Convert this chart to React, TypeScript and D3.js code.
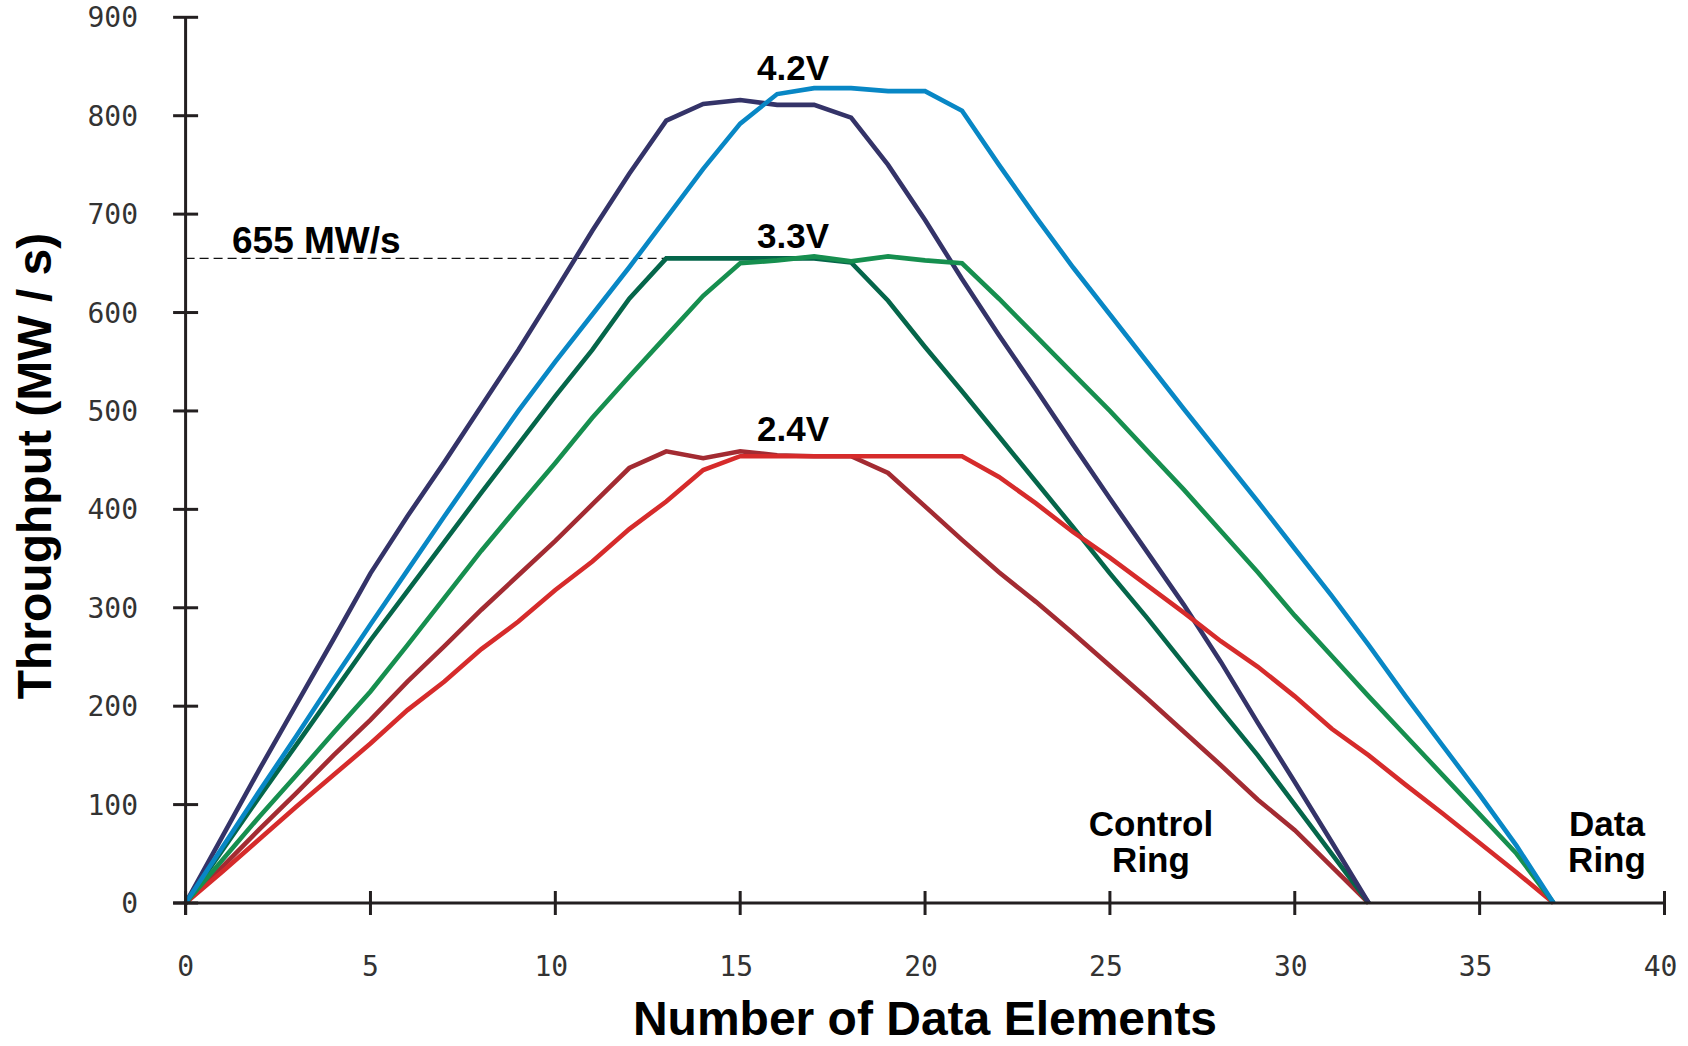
import React from "react";
import * as d3 from "d3";

const xTicks = [0, 5, 10, 15, 20, 25, 30, 35, 40];
const yTicks = [0, 100, 200, 300, 400, 500, 600, 700, 800, 900];

const control42 = [0, 68, 136, 202, 268, 335, 393, 448, 505, 562, 622, 683, 741, 795, 812, 816, 811, 811, 798, 750, 694, 634, 577, 522, 466, 411, 357, 303, 245, 183, 123, 62, 0];
const data42 = [0, 57, 114, 170, 227, 283, 338, 393, 447, 500, 550, 598, 646, 696, 746, 792, 822, 828, 828, 825, 825, 805, 750, 697, 646, 598, 550, 502, 455, 408, 360, 312, 262, 210, 160, 110, 58, 0];
const control33 = [0, 54, 108, 161, 214, 267, 317, 367, 417, 466, 515, 562, 614, 655, 655, 655, 655, 655, 651, 612, 565, 520, 474, 428, 382, 335, 290, 243, 196, 150, 100, 50, 0];
const data33 = [0, 44, 88, 130, 173, 215, 262, 310, 358, 403, 447, 493, 535, 576, 617, 650, 653, 657, 652, 657, 653, 650, 614, 576, 538, 500, 460, 420, 378, 336, 292, 251, 210, 170, 130, 90, 50, 0];
const control24 = [0, 37, 75, 112, 150, 186, 225, 261, 298, 333, 368, 405, 442, 459, 452, 459, 455, 454, 454, 437, 403, 369, 336, 306, 274, 241, 208, 174, 140, 105, 74, 37, 0];
const data24 = [0, 32, 65, 98, 130, 162, 196, 225, 258, 286, 318, 347, 380, 408, 440, 454, 454, 454, 454, 454, 454, 454, 433, 406, 377, 351, 323, 295, 266, 240, 210, 177, 150, 120, 91, 61, 31, 0];

const seriesOrder = [
  { name: "Control 2.4V", values: control24, color: "#a32b32" },
  { name: "Control 3.3V", values: control33, color: "#05664a" },
  { name: "Control 4.2V", values: control42, color: "#343368" },
  { name: "Data 2.4V", values: data24, color: "#d62b2b" },
  { name: "Data 3.3V", values: data33, color: "#168f4f" },
  { name: "Data 4.2V", values: data42, color: "#0887c5" },
];

const refValue = 655;
const refEndX = 13;

const voltageLabels = [
  { text: "4.2V", y: 80 },
  { text: "3.3V", y: 248 },
  { text: "2.4V", y: 441 },
];

const ringLabels = [
  { lines: ["Control", "Ring"], x: 1151 },
  { lines: ["Data", "Ring"], x: 1607 },
];

export default function App() {
  const W = 1688;
  const H = 1046;
  const x = d3.scaleLinear().domain([0, 40]).range([185.6, 1664.5]);
  const y = d3.scaleLinear().domain([0, 900]).range([903, 17.3]);
  const line = d3
    .line<number>()
    .x((_, i) => x(i))
    .y((d) => y(d));

  const axisColor = "#231f20";
  const boldFont = "'Liberation Sans', Arial, Helvetica, sans-serif";
  const monoFont = "'DejaVu Sans Mono', monospace";

  return (
    <div style={{ position: "absolute", left: 0, top: 0 }}>
      <svg width={W} height={H} viewBox={`0 0 ${W} ${H}`} style={{ display: "block", background: "#fff" }}>
        <rect x={0} y={0} width={W} height={H} fill="#fff" />
        <line
          x1={x(0)}
          x2={x(refEndX)}
          y1={y(refValue)}
          y2={y(refValue)}
          stroke="#111"
          strokeWidth={1.3}
          strokeDasharray="9,5"
        />
        {seriesOrder.map((s) => (
          <path
            key={s.name}
            d={line(s.values) || ""}
            fill="none"
            stroke={s.color}
            strokeWidth={4.6}
            strokeLinejoin="miter"
            strokeLinecap="butt"
          />
        ))}
        <line x1={x(0)} x2={x(0)} y1={y(900)} y2={y(0) + 12} stroke={axisColor} strokeWidth={3} />
        <line x1={x(0) - 12.5} x2={x(40)} y1={y(0)} y2={y(0)} stroke={axisColor} strokeWidth={3} />
        {yTicks.map((t) => (
          <g key={"y" + t}>
            <line x1={x(0) - 12.5} x2={x(0) + 12.5} y1={y(t)} y2={y(t)} stroke={axisColor} strokeWidth={3} />
            <text x={138} y={y(t) + 10} textAnchor="end" fontFamily={monoFont} fontSize={28} fill="#333">
              {t}
            </text>
          </g>
        ))}
        {xTicks.map((t) => (
          <g key={"x" + t}>
            <line x1={x(t)} x2={x(t)} y1={y(0) - 12} y2={y(0) + 12} stroke={axisColor} strokeWidth={3} />
            <text
              x={x(t) - (String(t).length > 1 ? 4 : 0)}
              y={976}
              textAnchor="middle"
              fontFamily={monoFont}
              fontSize={28}
              fill="#333"
            >
              {t}
            </text>
          </g>
        ))}
        <text x={925} y={1035} textAnchor="middle" fontFamily={boldFont} fontWeight="bold" fontSize={48} fill="#000">
          Number of Data Elements
        </text>
        <text
          transform="translate(51,466) rotate(-90)"
          textAnchor="middle"
          fontFamily={boldFont}
          fontWeight="bold"
          fontSize={48}
          fill="#000"
        >
          Throughput (MW / s)
        </text>
        <text x={232} y={253} fontFamily={boldFont} fontWeight="bold" fontSize={37} fill="#000">
          655 MW/s
        </text>
        {voltageLabels.map((l) => (
          <text
            key={l.text}
            x={793}
            y={l.y}
            textAnchor="middle"
            fontFamily={boldFont}
            fontWeight="bold"
            fontSize={35}
            fill="#000"
          >
            {l.text}
          </text>
        ))}
        {ringLabels.map((r) => (
          <text
            key={r.lines[0]}
            textAnchor="middle"
            fontFamily={boldFont}
            fontWeight="bold"
            fontSize={35}
            fill="#000"
          >
            <tspan x={r.x} y={836}>
              {r.lines[0]}
            </tspan>
            <tspan x={r.x} y={872}>
              {r.lines[1]}
            </tspan>
          </text>
        ))}
      </svg>
    </div>
  );
}
